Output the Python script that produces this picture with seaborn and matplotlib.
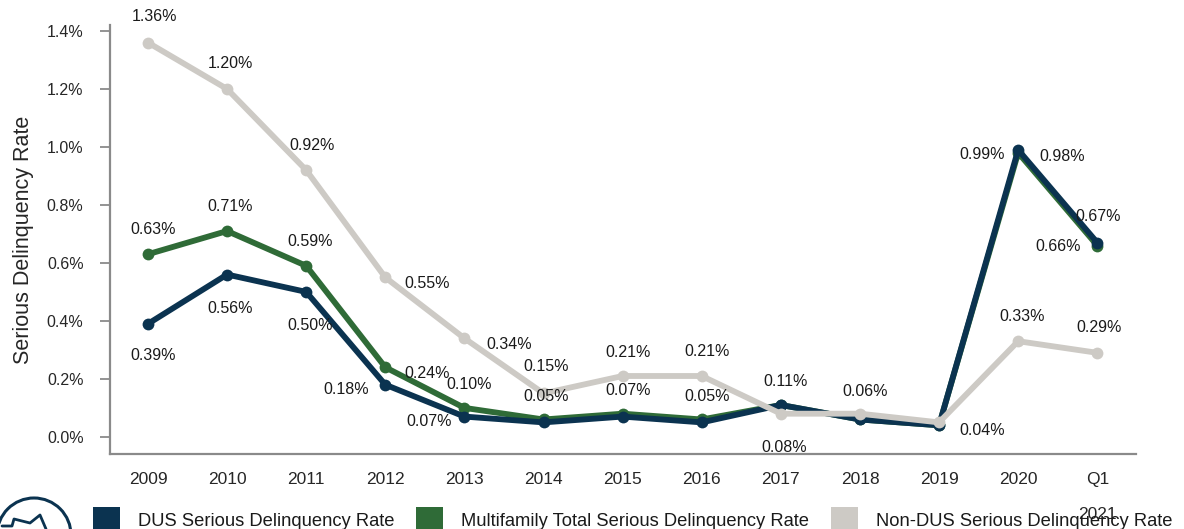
import matplotlib
matplotlib.use("Agg")
import matplotlib.pyplot as plt
from matplotlib.patches import Patch, Circle
from matplotlib.lines import Line2D
import pandas as pd
import seaborn as sns

# ---- data -------------------------------------------------------------
categories = ["2009", "2010", "2011", "2012", "2013", "2014", "2015",
              "2016", "2017", "2018", "2019", "2020", "Q1\n2021"]
dus_rate = [0.39, 0.56, 0.50, 0.18, 0.07, 0.05, 0.07, 0.05, 0.11, 0.06, 0.04, 0.99, 0.67]
mf_total_rate = [0.63, 0.71, 0.59, 0.24, 0.10, 0.06, 0.08, 0.06, 0.11, 0.06, 0.04, 0.98, 0.66]
non_dus_rate = [1.36, 1.20, 0.92, 0.55, 0.34, 0.15, 0.21, 0.21, 0.08, 0.08, 0.05, 0.33, 0.29]

series_names = ["DUS Serious Delinquency Rate",
                "Multifamily Total Serious Delinquency Rate",
                "Non-DUS Serious Delinquency Rate"]
y_ticks = [0.0, 0.2, 0.4, 0.6, 0.8, 1.0, 1.2, 1.4]

# ---- styling ----------------------------------------------------------
NAVY = "#0b3350"
GREEN = "#2f6b37"
GRAY = "#cdcac5"
colors = {series_names[0]: NAVY, series_names[1]: GREEN, series_names[2]: GRAY}

sns.set_theme(style="white")
plt.rcParams["font.family"] = ["Liberation Sans", "DejaVu Sans"]
plt.rcParams["text.color"] = "#1a1a1a"

# long-form table for seaborn
frames = []
for name, vals in zip(series_names, [dus_rate, mf_total_rate, non_dus_rate]):
    frames.append(pd.DataFrame({"period": categories, "rate": vals, "series": name}))
df = pd.concat(frames, ignore_index=True)
df["pos"] = df["period"].map({c: i for i, c in enumerate(categories)})

fig = plt.figure(figsize=(11.84, 5.29), dpi=100)
ax = fig.add_axes([0.0929, 0.1418, 0.8666, 0.8106])

# green underneath, navy over it, gray on top
sns.lineplot(data=df, x="pos", y="rate", hue="series",
             hue_order=[series_names[1], series_names[0], series_names[2]],
             palette=colors, marker="o", markersize=8.5, markeredgewidth=0,
             linewidth=4.2, sort=False, legend=False, ax=ax)

ax.set_xlim(-0.48, 12.49)
ax.set_ylim(-0.059, 1.42)
ax.set_xticks(range(len(categories)))
ax.set_xticklabels(categories, fontsize=12.5)
ax.set_yticks(y_ticks)
ax.set_yticklabels([f"{t:.1f}%" for t in y_ticks], fontsize=11.5)
ax.set_xlabel("")
ax.set_ylabel("Serious Delinquency Rate", fontsize=15.5, labelpad=9)
ax.tick_params(axis="x", length=0, pad=13)
ax.tick_params(axis="y", length=7, width=1.3, color="#8a8a8a", pad=12, left=True)
ax.get_xticklabels()[-1].set_linespacing(2.65)

for side in ("top", "right"):
    ax.spines[side].set_visible(False)
for side in ("left", "bottom"):
    ax.spines[side].set_color("#8a8a8a")
    ax.spines[side].set_linewidth(1.6)

# ---- value labels (offsets in pixels: right, down) ----------------------
def px(dx, dy):
    return (dx * 0.72, -dy * 0.72)

label_offsets = {
    "dus": [(5, 32), (3, 34), (4, 34), (-39, 5), (-35, 5), (3, -26), (5, -26),
            (5, -26), (5, -23), (5, -28), (43, 5), (-36, 5), (1, -26)],
    "mf": [(5, -25), (3, -25), (4, -24), (42, 6), (5, -23), None, None,
           None, None, None, None, (44, 4), (-39, 1)],
    "non": [(7, -26), (3, -25), (6, -25), (42, 6), (45, 6), (3, -27), (5, -23),
            (5, -24), (3, 34), None, None, (4, -25), (2, -25)],
}
for key, vals in (("dus", dus_rate), ("mf", mf_total_rate), ("non", non_dus_rate)):
    for i, (v, off) in enumerate(zip(vals, label_offsets[key])):
        if off is None:
            continue
        ax.annotate(f"{v:.2f}%", (i, v), xytext=px(*off), textcoords="offset points",
                    ha="center", va="center", fontsize=11.5, color="#1a1a1a", zorder=5)

# ---- legend along the bottom edge ---------------------------------------
handles = [Patch(facecolor=NAVY, edgecolor="none"),
           Patch(facecolor=GREEN, edgecolor="none"),
           Patch(facecolor=GRAY, edgecolor="none")]
fig.legend(handles, series_names, loc="upper left", bbox_to_anchor=(0.0785, 0.041),
           ncol=3, frameon=False, fontsize=13.2, handlelength=1.45, handleheight=1.8,
           handletextpad=1.0, columnspacing=1.2, borderpad=0, borderaxespad=0)

# ---- round emblem in the lower-left corner --------------------------------
emblem = Circle((0.34, -0.06), 0.37, transform=fig.dpi_scale_trans,
                facecolor="none", edgecolor=NAVY, linewidth=2.2, clip_on=False)
fig.add_artist(emblem)
fig.add_artist(Line2D([0.02, 0.12, 0.14, 0.30, 0.40, 0.46],
                      [0.03, 0.03, 0.10, 0.06, 0.14, 0.00],
                      transform=fig.dpi_scale_trans, color=NAVY, linewidth=2.0))

fig.savefig("out.png", dpi=100)
